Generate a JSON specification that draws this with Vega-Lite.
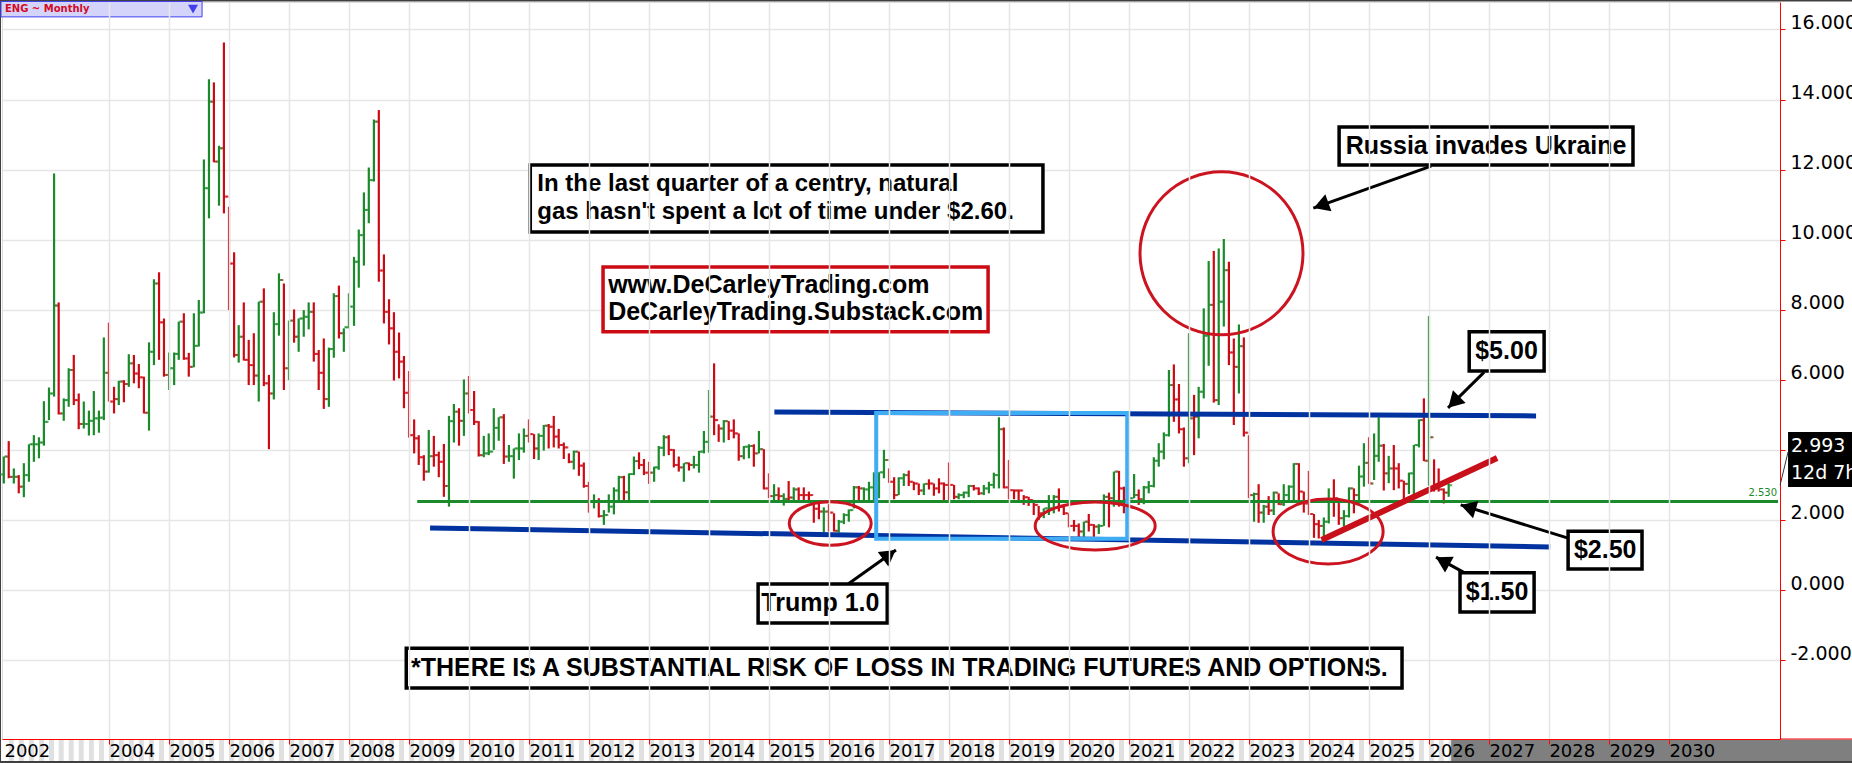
{
  "$schema": "https://vega.github.io/schema/vega-lite/v6.json",
  "width": 1778,
  "height": 737,
  "autosize": "none",
  "padding": {"left": 2, "top": 2, "right": 72, "bottom": 24},
  "background": "white",
  "datasets": {
    "prices": [
      {"d":"2002-04-01","s":"up","o":3.30,"h":3.81,"l":3.04,"c":3.81},
      {"d":"2002-05-01","s":"dn","o":3.81,"h":4.25,"l":3.19,"c":3.23},
      {"d":"2002-06-01","s":"up","o":3.23,"h":3.47,"l":3.04,"c":3.23},
      {"d":"2002-07-01","s":"dn","o":3.23,"h":3.28,"l":2.76,"c":2.95},
      {"d":"2002-08-01","s":"up","o":2.95,"h":3.62,"l":2.65,"c":3.28},
      {"d":"2002-09-01","s":"up","o":3.28,"h":4.16,"l":3.09,"c":4.16},
      {"d":"2002-10-01","s":"up","o":4.16,"h":4.42,"l":3.66,"c":4.16},
      {"d":"2002-11-01","s":"up","o":4.16,"h":4.36,"l":3.76,"c":4.21},
      {"d":"2002-12-01","s":"up","o":4.21,"h":5.39,"l":4.12,"c":4.80},
      {"d":"2003-01-01","s":"up","o":4.80,"h":5.78,"l":4.85,"c":5.61},
      {"d":"2003-02-01","s":"up","o":5.61,"h":11.89,"l":5.52,"c":8.12},
      {"d":"2003-03-01","s":"dn","o":8.12,"h":8.21,"l":5.01,"c":5.04},
      {"d":"2003-04-01","s":"up","o":5.04,"h":5.47,"l":4.83,"c":5.42},
      {"d":"2003-05-01","s":"up","o":5.42,"h":6.33,"l":5.23,"c":6.28},
      {"d":"2003-06-01","s":"dn","o":6.28,"h":6.71,"l":5.28,"c":5.42},
      {"d":"2003-07-01","s":"dn","o":5.42,"h":5.61,"l":4.59,"c":4.74},
      {"d":"2003-08-01","s":"up","o":4.74,"h":5.38,"l":4.61,"c":4.74},
      {"d":"2003-09-01","s":"up","o":4.74,"h":5.12,"l":4.41,"c":4.83},
      {"d":"2003-10-01","s":"up","o":4.83,"h":5.68,"l":4.42,"c":4.90},
      {"d":"2003-11-01","s":"up","o":4.90,"h":5.12,"l":4.49,"c":4.92},
      {"d":"2003-12-01","s":"up","o":4.92,"h":7.21,"l":4.85,"c":6.20},
      {"d":"2004-01-01","s":"dn","o":6.20,"h":7.63,"l":5.38,"c":5.38},
      {"d":"2004-02-01","s":"dn","o":5.38,"h":5.80,"l":5.04,"c":5.45},
      {"d":"2004-03-01","s":"up","o":5.45,"h":5.97,"l":5.28,"c":5.95},
      {"d":"2004-04-01","s":"dn","o":5.95,"h":5.99,"l":5.36,"c":5.88},
      {"d":"2004-05-01","s":"up","o":5.88,"h":6.73,"l":5.80,"c":6.47},
      {"d":"2004-06-01","s":"dn","o":6.47,"h":6.71,"l":5.90,"c":6.18},
      {"d":"2004-07-01","s":"dn","o":6.18,"h":6.45,"l":5.76,"c":6.07},
      {"d":"2004-08-01","s":"dn","o":6.07,"h":6.09,"l":5.04,"c":5.06},
      {"d":"2004-09-01","s":"up","o":5.06,"h":7.07,"l":4.55,"c":6.80},
      {"d":"2004-10-01","s":"up","o":6.80,"h":8.87,"l":6.42,"c":8.75},
      {"d":"2004-11-01","s":"dn","o":8.75,"h":9.07,"l":6.57,"c":7.64},
      {"d":"2004-12-01","s":"dn","o":7.64,"h":7.75,"l":6.09,"c":6.14},
      {"d":"2005-01-01","s":"up","o":6.14,"h":6.78,"l":5.71,"c":6.33},
      {"d":"2005-02-01","s":"up","o":6.33,"h":6.78,"l":5.85,"c":6.74},
      {"d":"2005-03-01","s":"up","o":6.74,"h":7.66,"l":6.57,"c":7.66},
      {"d":"2005-04-01","s":"dn","o":7.66,"h":7.90,"l":6.57,"c":6.61},
      {"d":"2005-05-01","s":"dn","o":6.61,"h":6.77,"l":6.09,"c":6.37},
      {"d":"2005-06-01","s":"up","o":6.37,"h":7.90,"l":6.36,"c":6.97},
      {"d":"2005-07-01","s":"up","o":6.97,"h":8.28,"l":6.95,"c":7.92},
      {"d":"2005-08-01","s":"up","o":7.92,"h":12.29,"l":7.90,"c":11.47},
      {"d":"2005-09-01","s":"up","o":11.47,"h":14.58,"l":10.61,"c":13.94},
      {"d":"2005-10-01","s":"dn","o":13.94,"h":14.49,"l":12.21,"c":12.23},
      {"d":"2005-11-01","s":"up","o":12.23,"h":12.68,"l":10.97,"c":12.61},
      {"d":"2005-12-01","s":"dn","o":12.61,"h":15.63,"l":10.75,"c":11.23},
      {"d":"2006-01-01","s":"dn","o":11.23,"h":10.94,"l":7.99,"c":9.32},
      {"d":"2006-02-01","s":"dn","o":9.32,"h":9.64,"l":6.64,"c":6.71},
      {"d":"2006-03-01","s":"up","o":6.71,"h":7.56,"l":6.49,"c":7.23},
      {"d":"2006-04-01","s":"dn","o":7.23,"h":8.21,"l":6.55,"c":6.57},
      {"d":"2006-05-01","s":"dn","o":6.57,"h":7.14,"l":5.85,"c":6.42},
      {"d":"2006-06-01","s":"dn","o":6.42,"h":7.33,"l":5.85,"c":6.12},
      {"d":"2006-07-01","s":"up","o":6.12,"h":8.23,"l":5.38,"c":8.23},
      {"d":"2006-08-01","s":"dn","o":8.23,"h":8.61,"l":5.82,"c":5.90},
      {"d":"2006-09-01","s":"dn","o":5.90,"h":6.14,"l":4.02,"c":5.61},
      {"d":"2006-10-01","s":"up","o":5.61,"h":7.93,"l":5.44,"c":7.59},
      {"d":"2006-11-01","s":"up","o":7.59,"h":9.04,"l":7.26,"c":8.85},
      {"d":"2006-12-01","s":"dn","o":8.85,"h":8.75,"l":5.71,"c":6.33},
      {"d":"2007-01-01","s":"up","o":6.33,"h":7.69,"l":5.99,"c":7.69},
      {"d":"2007-02-01","s":"dn","o":7.69,"h":8.01,"l":7.06,"c":7.23},
      {"d":"2007-03-01","s":"up","o":7.23,"h":7.75,"l":6.80,"c":7.75},
      {"d":"2007-04-01","s":"up","o":7.75,"h":7.99,"l":7.23,"c":7.80},
      {"d":"2007-05-01","s":"up","o":7.80,"h":8.21,"l":7.44,"c":7.94},
      {"d":"2007-06-01","s":"dn","o":7.94,"h":8.21,"l":6.52,"c":6.74},
      {"d":"2007-07-01","s":"dn","o":6.74,"h":6.85,"l":5.71,"c":6.20},
      {"d":"2007-08-01","s":"dn","o":6.20,"h":7.18,"l":5.17,"c":5.45},
      {"d":"2007-09-01","s":"up","o":5.45,"h":6.92,"l":5.23,"c":6.88},
      {"d":"2007-10-01","s":"up","o":6.88,"h":8.47,"l":6.63,"c":8.39},
      {"d":"2007-11-01","s":"dn","o":8.39,"h":8.69,"l":7.18,"c":7.33},
      {"d":"2007-12-01","s":"up","o":7.33,"h":7.47,"l":6.80,"c":7.50},
      {"d":"2008-01-01","s":"up","o":7.50,"h":8.47,"l":7.47,"c":8.09},
      {"d":"2008-02-01","s":"up","o":8.09,"h":9.51,"l":7.54,"c":9.37},
      {"d":"2008-03-01","s":"up","o":9.37,"h":10.29,"l":8.63,"c":10.13},
      {"d":"2008-04-01","s":"up","o":10.13,"h":11.35,"l":9.26,"c":10.85},
      {"d":"2008-05-01","s":"up","o":10.85,"h":12.06,"l":10.47,"c":11.70},
      {"d":"2008-06-01","s":"up","o":11.70,"h":13.43,"l":11.66,"c":13.37},
      {"d":"2008-07-01","s":"dn","o":13.37,"h":13.70,"l":8.80,"c":9.12},
      {"d":"2008-08-01","s":"dn","o":9.12,"h":9.58,"l":7.61,"c":7.94},
      {"d":"2008-09-01","s":"dn","o":7.94,"h":8.30,"l":7.01,"c":7.47},
      {"d":"2008-10-01","s":"dn","o":7.47,"h":7.93,"l":5.98,"c":6.80},
      {"d":"2008-11-01","s":"dn","o":6.80,"h":7.35,"l":6.04,"c":6.52},
      {"d":"2008-12-01","s":"dn","o":6.52,"h":6.68,"l":5.19,"c":5.63},
      {"d":"2009-01-01","s":"dn","o":5.63,"h":6.25,"l":4.35,"c":4.42},
      {"d":"2009-02-01","s":"dn","o":4.42,"h":4.87,"l":3.90,"c":4.33},
      {"d":"2009-03-01","s":"dn","o":4.33,"h":4.42,"l":3.57,"c":3.79},
      {"d":"2009-04-01","s":"dn","o":3.79,"h":3.85,"l":3.12,"c":3.38},
      {"d":"2009-05-01","s":"up","o":3.38,"h":4.57,"l":3.35,"c":3.82},
      {"d":"2009-06-01","s":"dn","o":3.82,"h":4.40,"l":3.52,"c":3.85},
      {"d":"2009-07-01","s":"dn","o":3.85,"h":3.95,"l":3.22,"c":3.66},
      {"d":"2009-08-01","s":"dn","o":3.66,"h":4.17,"l":2.66,"c":2.97},
      {"d":"2009-09-01","s":"up","o":2.97,"h":4.97,"l":2.38,"c":4.82},
      {"d":"2009-10-01","s":"up","o":4.82,"h":5.31,"l":4.21,"c":5.09},
      {"d":"2009-11-01","s":"dn","o":5.09,"h":5.19,"l":4.12,"c":4.83},
      {"d":"2009-12-01","s":"up","o":4.83,"h":6.01,"l":4.40,"c":5.61},
      {"d":"2010-01-01","s":"dn","o":5.61,"h":6.11,"l":5.04,"c":5.14},
      {"d":"2010-02-01","s":"dn","o":5.14,"h":5.68,"l":4.71,"c":4.80},
      {"d":"2010-03-01","s":"dn","o":4.80,"h":4.82,"l":3.81,"c":3.85},
      {"d":"2010-04-01","s":"up","o":3.85,"h":4.40,"l":3.79,"c":3.90},
      {"d":"2010-05-01","s":"up","o":3.90,"h":4.47,"l":3.85,"c":3.95},
      {"d":"2010-06-01","s":"up","o":3.95,"h":5.19,"l":4.00,"c":4.63},
      {"d":"2010-07-01","s":"up","o":4.63,"h":4.93,"l":4.26,"c":4.93},
      {"d":"2010-08-01","s":"dn","o":4.93,"h":5.02,"l":3.60,"c":3.81},
      {"d":"2010-09-01","s":"up","o":3.81,"h":4.14,"l":3.66,"c":3.82},
      {"d":"2010-10-01","s":"up","o":3.82,"h":4.04,"l":3.18,"c":4.04},
      {"d":"2010-11-01","s":"up","o":4.04,"h":4.47,"l":3.71,"c":4.04},
      {"d":"2010-12-01","s":"up","o":4.04,"h":4.61,"l":3.92,"c":4.40},
      {"d":"2011-01-01","s":"dn","o":4.40,"h":4.87,"l":4.21,"c":4.45},
      {"d":"2011-02-01","s":"dn","o":4.45,"h":4.45,"l":3.74,"c":4.04},
      {"d":"2011-03-01","s":"up","o":4.04,"h":4.47,"l":3.71,"c":4.40},
      {"d":"2011-04-01","s":"up","o":4.40,"h":4.71,"l":3.98,"c":4.69},
      {"d":"2011-05-01","s":"dn","o":4.69,"h":4.74,"l":4.04,"c":4.66},
      {"d":"2011-06-01","s":"dn","o":4.66,"h":4.97,"l":4.07,"c":4.38},
      {"d":"2011-07-01","s":"dn","o":4.38,"h":4.60,"l":4.04,"c":4.14},
      {"d":"2011-08-01","s":"dn","o":4.14,"h":4.21,"l":3.74,"c":4.07},
      {"d":"2011-09-01","s":"dn","o":4.07,"h":3.90,"l":3.62,"c":3.66},
      {"d":"2011-10-01","s":"up","o":3.66,"h":3.98,"l":3.44,"c":3.95},
      {"d":"2011-11-01","s":"dn","o":3.95,"h":3.95,"l":3.26,"c":3.55},
      {"d":"2011-12-01","s":"dn","o":3.55,"h":3.64,"l":2.92,"c":2.97},
      {"d":"2012-01-01","s":"dn","o":2.97,"h":3.09,"l":2.21,"c":2.52},
      {"d":"2012-02-01","s":"up","o":2.52,"h":2.73,"l":2.33,"c":2.52},
      {"d":"2012-03-01","s":"dn","o":2.52,"h":2.62,"l":2.07,"c":2.11},
      {"d":"2012-04-01","s":"up","o":2.11,"h":2.28,"l":1.86,"c":2.14},
      {"d":"2012-05-01","s":"up","o":2.14,"h":2.73,"l":2.21,"c":2.38},
      {"d":"2012-06-01","s":"up","o":2.38,"h":2.93,"l":2.16,"c":2.84},
      {"d":"2012-07-01","s":"up","o":2.84,"h":3.26,"l":2.57,"c":3.22},
      {"d":"2012-08-01","s":"dn","o":3.22,"h":3.26,"l":2.57,"c":2.79},
      {"d":"2012-09-01","s":"up","o":2.79,"h":3.33,"l":2.57,"c":3.31},
      {"d":"2012-10-01","s":"up","o":3.31,"h":3.81,"l":3.28,"c":3.68},
      {"d":"2012-11-01","s":"dn","o":3.68,"h":3.93,"l":3.45,"c":3.57},
      {"d":"2012-12-01","s":"dn","o":3.57,"h":3.74,"l":3.28,"c":3.35},
      {"d":"2013-01-01","s":"dn","o":3.35,"h":3.66,"l":3.03,"c":3.35},
      {"d":"2013-02-01","s":"up","o":3.35,"h":3.52,"l":3.09,"c":3.50},
      {"d":"2013-03-01","s":"up","o":3.50,"h":4.11,"l":3.43,"c":4.06},
      {"d":"2013-04-01","s":"up","o":4.06,"h":4.42,"l":3.82,"c":4.36},
      {"d":"2013-05-01","s":"dn","o":4.36,"h":4.42,"l":3.85,"c":4.00},
      {"d":"2013-06-01","s":"dn","o":4.00,"h":4.02,"l":3.50,"c":3.57},
      {"d":"2013-07-01","s":"dn","o":3.57,"h":3.81,"l":3.38,"c":3.50},
      {"d":"2013-08-01","s":"up","o":3.50,"h":3.62,"l":3.09,"c":3.62},
      {"d":"2013-09-01","s":"dn","o":3.62,"h":3.64,"l":3.41,"c":3.57},
      {"d":"2013-10-01","s":"up","o":3.57,"h":3.83,"l":3.47,"c":3.57},
      {"d":"2013-11-01","s":"up","o":3.57,"h":3.97,"l":3.35,"c":3.95},
      {"d":"2013-12-01","s":"up","o":3.95,"h":4.54,"l":3.90,"c":4.23},
      {"d":"2014-01-01","s":"up","o":4.23,"h":5.71,"l":3.92,"c":4.95},
      {"d":"2014-02-01","s":"dn","o":4.95,"h":6.47,"l":4.42,"c":4.85},
      {"d":"2014-03-01","s":"dn","o":4.85,"h":4.73,"l":4.23,"c":4.61},
      {"d":"2014-04-01","s":"up","o":4.61,"h":4.85,"l":4.21,"c":4.82},
      {"d":"2014-05-01","s":"dn","o":4.82,"h":4.82,"l":4.28,"c":4.55},
      {"d":"2014-06-01","s":"dn","o":4.55,"h":4.87,"l":4.33,"c":4.47},
      {"d":"2014-07-01","s":"dn","o":4.47,"h":4.47,"l":3.69,"c":3.82},
      {"d":"2014-08-01","s":"up","o":3.82,"h":4.11,"l":3.73,"c":4.09},
      {"d":"2014-09-01","s":"up","o":4.09,"h":4.16,"l":3.76,"c":4.11},
      {"d":"2014-10-01","s":"dn","o":4.11,"h":4.16,"l":3.52,"c":3.90},
      {"d":"2014-11-01","s":"up","o":3.90,"h":4.54,"l":3.90,"c":4.02},
      {"d":"2014-12-01","s":"dn","o":4.02,"h":4.02,"l":2.87,"c":2.90},
      {"d":"2015-01-01","s":"dn","o":2.90,"h":3.33,"l":2.62,"c":2.68},
      {"d":"2015-02-01","s":"up","o":2.68,"h":3.02,"l":2.57,"c":2.71},
      {"d":"2015-03-01","s":"dn","o":2.71,"h":2.93,"l":2.57,"c":2.68},
      {"d":"2015-04-01","s":"up","o":2.68,"h":2.76,"l":2.41,"c":2.60},
      {"d":"2015-05-01","s":"dn","o":2.60,"h":3.11,"l":2.55,"c":2.64},
      {"d":"2015-06-01","s":"up","o":2.64,"h":2.93,"l":2.57,"c":2.87},
      {"d":"2015-07-01","s":"dn","o":2.87,"h":2.93,"l":2.57,"c":2.71},
      {"d":"2015-08-01","s":"dn","o":2.71,"h":2.93,"l":2.57,"c":2.71},
      {"d":"2015-09-01","s":"dn","o":2.71,"h":2.81,"l":2.57,"c":2.71},
      {"d":"2015-10-01","s":"dn","o":2.71,"h":2.52,"l":1.92,"c":2.32},
      {"d":"2015-11-01","s":"dn","o":2.32,"h":2.47,"l":2.02,"c":2.24},
      {"d":"2015-12-01","s":"up","o":2.24,"h":2.36,"l":1.65,"c":2.24},
      {"d":"2016-01-01","s":"dn","o":2.24,"h":2.45,"l":1.67,"c":2.21},
      {"d":"2016-02-01","s":"dn","o":2.21,"h":2.19,"l":1.67,"c":1.69},
      {"d":"2016-03-01","s":"up","o":1.69,"h":2.00,"l":1.64,"c":1.95},
      {"d":"2016-04-01","s":"up","o":1.95,"h":2.19,"l":1.88,"c":2.14},
      {"d":"2016-05-01","s":"up","o":2.14,"h":2.30,"l":1.95,"c":2.28},
      {"d":"2016-06-01","s":"up","o":2.28,"h":2.97,"l":2.33,"c":2.93},
      {"d":"2016-07-01","s":"dn","o":2.93,"h":2.97,"l":2.57,"c":2.90},
      {"d":"2016-08-01","s":"up","o":2.90,"h":2.93,"l":2.57,"c":2.87},
      {"d":"2016-09-01","s":"up","o":2.87,"h":3.09,"l":2.57,"c":2.93},
      {"d":"2016-10-01","s":"up","o":2.93,"h":3.36,"l":2.57,"c":3.04},
      {"d":"2016-11-01","s":"up","o":3.04,"h":3.36,"l":2.62,"c":3.36},
      {"d":"2016-12-01","s":"up","o":3.36,"h":4.00,"l":3.19,"c":3.71},
      {"d":"2017-01-01","s":"dn","o":3.71,"h":3.47,"l":3.06,"c":3.09},
      {"d":"2017-02-01","s":"dn","o":3.09,"h":3.22,"l":2.59,"c":2.71},
      {"d":"2017-03-01","s":"up","o":2.71,"h":3.22,"l":2.71,"c":3.19},
      {"d":"2017-04-01","s":"up","o":3.19,"h":3.33,"l":2.97,"c":3.28},
      {"d":"2017-05-01","s":"dn","o":3.28,"h":3.41,"l":2.97,"c":3.09},
      {"d":"2017-06-01","s":"dn","o":3.09,"h":3.09,"l":2.85,"c":3.04},
      {"d":"2017-07-01","s":"dn","o":3.04,"h":3.04,"l":2.71,"c":2.84},
      {"d":"2017-08-01","s":"up","o":2.84,"h":3.04,"l":2.71,"c":3.03},
      {"d":"2017-09-01","s":"dn","o":3.03,"h":3.16,"l":2.87,"c":3.04},
      {"d":"2017-10-01","s":"dn","o":3.04,"h":3.04,"l":2.69,"c":2.90},
      {"d":"2017-11-01","s":"dn","o":2.90,"h":3.19,"l":2.76,"c":3.04},
      {"d":"2017-12-01","s":"dn","o":3.04,"h":3.07,"l":2.57,"c":3.00},
      {"d":"2018-01-01","s":"dn","o":3.00,"h":3.64,"l":2.57,"c":3.00},
      {"d":"2018-02-01","s":"dn","o":3.00,"h":3.00,"l":2.59,"c":2.66},
      {"d":"2018-03-01","s":"up","o":2.66,"h":2.76,"l":2.59,"c":2.71},
      {"d":"2018-04-01","s":"up","o":2.71,"h":2.81,"l":2.62,"c":2.78},
      {"d":"2018-05-01","s":"up","o":2.78,"h":3.00,"l":2.65,"c":2.97},
      {"d":"2018-06-01","s":"dn","o":2.97,"h":3.00,"l":2.84,"c":2.90},
      {"d":"2018-07-01","s":"dn","o":2.90,"h":2.93,"l":2.71,"c":2.76},
      {"d":"2018-08-01","s":"up","o":2.76,"h":3.00,"l":2.71,"c":2.90},
      {"d":"2018-09-01","s":"up","o":2.90,"h":3.09,"l":2.76,"c":3.00},
      {"d":"2018-10-01","s":"up","o":3.00,"h":3.35,"l":2.90,"c":3.28},
      {"d":"2018-11-01","s":"up","o":3.28,"h":4.93,"l":2.90,"c":4.59},
      {"d":"2018-12-01","s":"dn","o":4.59,"h":4.64,"l":2.90,"c":2.93},
      {"d":"2019-01-01","s":"dn","o":2.93,"h":3.71,"l":2.59,"c":2.85},
      {"d":"2019-02-01","s":"dn","o":2.85,"h":2.87,"l":2.59,"c":2.84},
      {"d":"2019-03-01","s":"dn","o":2.84,"h":2.87,"l":2.57,"c":2.84},
      {"d":"2019-04-01","s":"dn","o":2.84,"h":2.71,"l":2.43,"c":2.65},
      {"d":"2019-05-01","s":"dn","o":2.65,"h":2.66,"l":2.40,"c":2.57},
      {"d":"2019-06-01","s":"dn","o":2.57,"h":2.52,"l":2.14,"c":2.43},
      {"d":"2019-07-01","s":"dn","o":2.43,"h":2.40,"l":2.00,"c":2.19},
      {"d":"2019-08-01","s":"up","o":2.19,"h":2.33,"l":2.05,"c":2.33},
      {"d":"2019-09-01","s":"up","o":2.33,"h":2.71,"l":2.14,"c":2.33},
      {"d":"2019-10-01","s":"up","o":2.33,"h":2.71,"l":2.19,"c":2.66},
      {"d":"2019-11-01","s":"dn","o":2.66,"h":2.90,"l":2.24,"c":2.38},
      {"d":"2019-12-01","s":"dn","o":2.38,"h":2.45,"l":2.14,"c":2.19},
      {"d":"2020-01-01","s":"dn","o":2.19,"h":2.19,"l":1.79,"c":1.83},
      {"d":"2020-02-01","s":"dn","o":1.83,"h":2.00,"l":1.67,"c":1.83},
      {"d":"2020-03-01","s":"dn","o":1.83,"h":1.90,"l":1.52,"c":1.67},
      {"d":"2020-04-01","s":"up","o":1.67,"h":1.95,"l":1.52,"c":1.95},
      {"d":"2020-05-01","s":"dn","o":1.95,"h":2.17,"l":1.67,"c":1.86},
      {"d":"2020-06-01","s":"dn","o":1.86,"h":1.88,"l":1.52,"c":1.81},
      {"d":"2020-07-01","s":"up","o":1.81,"h":1.88,"l":1.60,"c":1.83},
      {"d":"2020-08-01","s":"up","o":1.83,"h":2.73,"l":1.83,"c":2.66},
      {"d":"2020-09-01","s":"dn","o":2.66,"h":2.78,"l":1.79,"c":2.62},
      {"d":"2020-10-01","s":"up","o":2.62,"h":3.38,"l":2.38,"c":3.38},
      {"d":"2020-11-01","s":"dn","o":3.38,"h":3.40,"l":2.38,"c":2.90},
      {"d":"2020-12-01","s":"dn","o":2.90,"h":2.95,"l":2.19,"c":2.57},
      {"d":"2021-01-01","s":"up","o":2.57,"h":2.76,"l":2.38,"c":2.62},
      {"d":"2021-02-01","s":"up","o":2.62,"h":3.31,"l":2.62,"c":2.71},
      {"d":"2021-03-01","s":"dn","o":2.71,"h":2.87,"l":2.43,"c":2.59},
      {"d":"2021-04-01","s":"up","o":2.59,"h":2.97,"l":2.45,"c":2.93},
      {"d":"2021-05-01","s":"up","o":2.93,"h":3.11,"l":2.76,"c":2.97},
      {"d":"2021-06-01","s":"up","o":2.97,"h":3.79,"l":2.93,"c":3.69},
      {"d":"2021-07-01","s":"up","o":3.69,"h":4.19,"l":3.52,"c":3.95},
      {"d":"2021-08-01","s":"up","o":3.95,"h":4.50,"l":3.73,"c":4.42},
      {"d":"2021-09-01","s":"up","o":4.42,"h":6.28,"l":4.38,"c":5.85},
      {"d":"2021-10-01","s":"dn","o":5.85,"h":6.44,"l":4.80,"c":5.44},
      {"d":"2021-11-01","s":"dn","o":5.44,"h":5.88,"l":4.47,"c":4.59},
      {"d":"2021-12-01","s":"dn","o":4.59,"h":4.64,"l":3.52,"c":3.76},
      {"d":"2022-01-01","s":"up","o":3.76,"h":7.33,"l":3.62,"c":4.90},
      {"d":"2022-02-01","s":"dn","o":4.90,"h":5.57,"l":3.85,"c":4.95},
      {"d":"2022-03-01","s":"up","o":4.95,"h":5.80,"l":4.33,"c":5.66},
      {"d":"2022-04-01","s":"up","o":5.66,"h":8.04,"l":5.47,"c":7.26},
      {"d":"2022-05-01","s":"up","o":7.26,"h":9.39,"l":6.40,"c":8.14},
      {"d":"2022-06-01","s":"dn","o":8.14,"h":9.68,"l":5.35,"c":5.42},
      {"d":"2022-07-01","s":"up","o":5.42,"h":9.75,"l":5.28,"c":8.23},
      {"d":"2022-08-01","s":"up","o":8.23,"h":10.02,"l":7.52,"c":9.13},
      {"d":"2022-09-01","s":"dn","o":9.13,"h":9.37,"l":6.42,"c":6.78},
      {"d":"2022-10-01","s":"dn","o":6.78,"h":7.18,"l":4.71,"c":6.37},
      {"d":"2022-11-01","s":"up","o":6.37,"h":7.58,"l":5.61,"c":6.96},
      {"d":"2022-12-01","s":"dn","o":6.96,"h":7.21,"l":4.38,"c":4.49},
      {"d":"2023-01-01","s":"dn","o":4.49,"h":4.42,"l":2.62,"c":2.71},
      {"d":"2023-02-01","s":"up","o":2.71,"h":2.78,"l":1.95,"c":2.74},
      {"d":"2023-03-01","s":"dn","o":2.74,"h":3.02,"l":1.92,"c":2.21},
      {"d":"2023-04-01","s":"up","o":2.21,"h":2.43,"l":1.92,"c":2.38},
      {"d":"2023-05-01","s":"dn","o":2.38,"h":2.68,"l":2.14,"c":2.27},
      {"d":"2023-06-01","s":"up","o":2.27,"h":2.81,"l":2.14,"c":2.78},
      {"d":"2023-07-01","s":"dn","o":2.78,"h":2.76,"l":2.43,"c":2.45},
      {"d":"2023-08-01","s":"up","o":2.45,"h":3.02,"l":2.40,"c":2.71},
      {"d":"2023-09-01","s":"up","o":2.71,"h":2.99,"l":2.57,"c":2.95},
      {"d":"2023-10-01","s":"up","o":2.95,"h":3.62,"l":2.52,"c":3.60},
      {"d":"2023-11-01","s":"dn","o":3.60,"h":3.62,"l":2.57,"c":2.81},
      {"d":"2023-12-01","s":"dn","o":2.81,"h":2.81,"l":2.21,"c":2.47},
      {"d":"2024-01-01","s":"dn","o":2.47,"h":3.40,"l":2.14,"c":2.17},
      {"d":"2024-02-01","s":"dn","o":2.17,"h":2.17,"l":1.49,"c":1.88},
      {"d":"2024-03-01","s":"dn","o":1.88,"h":2.00,"l":1.47,"c":1.83},
      {"d":"2024-04-01","s":"up","o":1.83,"h":2.07,"l":1.50,"c":1.95},
      {"d":"2024-05-01","s":"up","o":1.95,"h":2.90,"l":1.90,"c":2.58},
      {"d":"2024-06-01","s":"dn","o":2.58,"h":3.16,"l":2.09,"c":2.62},
      {"d":"2024-07-01","s":"dn","o":2.62,"h":2.57,"l":1.86,"c":2.05},
      {"d":"2024-08-01","s":"up","o":2.05,"h":2.28,"l":1.81,"c":2.11},
      {"d":"2024-09-01","s":"up","o":2.11,"h":2.93,"l":2.07,"c":2.90},
      {"d":"2024-10-01","s":"dn","o":2.90,"h":2.90,"l":2.19,"c":2.71},
      {"d":"2024-11-01","s":"up","o":2.71,"h":3.55,"l":2.57,"c":3.24},
      {"d":"2024-12-01","s":"up","o":3.24,"h":4.19,"l":2.95,"c":3.63},
      {"d":"2025-01-01","s":"dn","o":3.63,"h":4.36,"l":3.03,"c":3.04},
      {"d":"2025-02-01","s":"up","o":3.04,"h":4.47,"l":3.14,"c":3.83},
      {"d":"2025-03-01","s":"up","o":3.83,"h":4.93,"l":3.66,"c":4.12},
      {"d":"2025-04-01","s":"dn","o":4.12,"h":4.17,"l":2.84,"c":3.33},
      {"d":"2025-05-01","s":"up","o":3.33,"h":3.83,"l":3.05,"c":3.47},
      {"d":"2025-06-01","s":"dn","o":3.47,"h":4.14,"l":2.85,"c":3.47},
      {"d":"2025-07-01","s":"dn","o":3.47,"h":3.62,"l":2.90,"c":3.12},
      {"d":"2025-08-01","s":"dn","o":3.12,"h":3.12,"l":2.57,"c":3.03},
      {"d":"2025-09-01","s":"up","o":3.03,"h":3.35,"l":2.74,"c":3.33},
      {"d":"2025-10-01","s":"up","o":3.33,"h":4.14,"l":2.66,"c":4.14},
      {"d":"2025-11-01","s":"up","o":4.14,"h":4.87,"l":4.07,"c":4.85},
      {"d":"2025-12-01","s":"dn","o":4.85,"h":5.47,"l":3.68,"c":3.69},
      {"d":"2026-01-01","s":"up","o":3.69,"h":7.82,"l":2.98,"c":4.36},
      {"d":"2026-02-01","s":"dn","o":4.36,"h":3.73,"l":2.81,"c":2.90},
      {"d":"2026-03-01","s":"dn","o":2.90,"h":3.47,"l":2.81,"c":2.87},
      {"d":"2026-04-01","s":"dn","o":2.87,"h":2.90,"l":2.47,"c":2.78},
      {"d":"2026-05-01","s":"up","o":2.78,"h":3.03,"l":2.66,"c":2.99}
    ],
    "boxes": [
      {"k":"note","d":"2011-01-09","d2":"2019-07-27","p":12.13,"p2":10.22},
      {"k":"web","d":"2012-03-27","d2":"2018-08-27","p":9.22,"p2":7.37},
      {"k":"note","d":"2024-07-03","d2":"2029-05-27","p":13.22,"p2":12.13},
      {"k":"note","d":"2026-09-03","d2":"2027-12-03","p":7.37,"p2":6.25},
      {"k":"note","d":"2028-04-27","d2":"2029-07-21","p":1.68,"p2":0.60},
      {"k":"note","d":"2026-07-09","d2":"2027-10-03","p":0.49,"p2":-0.63},
      {"k":"note","d":"2014-10-27","d2":"2016-12-21","p":0.17,"p2":-0.94},
      {"k":"note","d":"2008-12-15","d2":"2025-07-21","p":-1.66,"p2":-2.80}
    ],
    "arrows": [
      {"d":"2026-01-14","d2":"2024-01-28","p":12.10,"p2":10.90},
      {"d":"2016-04-27","d2":"2017-02-12","p":0.17,"p2":1.14},
      {"d":"2026-12-03","d2":"2026-04-27","p":6.22,"p2":5.20},
      {"d":"2028-04-27","d2":"2026-07-13","p":1.48,"p2":2.43},
      {"d":"2026-08-06","d2":"2026-02-13","p":0.49,"p2":0.94}
    ],
    "heads": [
      {"a":"russia","d":"2024-03-15","p":10.98},
      {"a":"trump","d":"2017-01-03","p":1.01},
      {"a":"five","d":"2026-06-01","p":5.36},
      {"a":"twofifty","d":"2026-08-28","p":2.36},
      {"a":"onefifty","d":"2026-03-25","p":0.83}
    ],
    "labels": [
      {"k":"note","t":"In the last quarter of a centry, natural","d":"2011-02-21","p":11.59},
      {"k":"note","t":"gas hasn't spent a lot of time under $2.60.","d":"2011-02-21","p":10.79},
      {"k":"web","t":"www.DeCarleyTrading.com","d":"2012-04-27","p":8.71},
      {"k":"web","t":"DeCarleyTrading.Substack.com","d":"2012-04-27","p":7.94},
      {"k":"mid","t":"Russia invades Ukraine","d":"2026-12-15","p":12.67},
      {"k":"mid","t":"$5.00","d":"2027-04-18","p":6.81},
      {"k":"mid","t":"$2.50","d":"2028-12-09","p":1.14},
      {"k":"mid","t":"$1.50","d":"2027-02-20","p":-0.07},
      {"k":"mid","t":"Trump 1.0","d":"2015-11-10","p":-0.385},
      {"k":"mid","t":"*THERE IS A SUBSTANTIAL RISK OF LOSS IN TRADING FUTURES AND OPTIONS.","d":"2017-03-05","p":-2.23}
    ]
  },
  "data": {"name": "prices"},
  "encoding": {
    "x": {
      "field": "d",
      "type": "temporal",
      "title": null,
      "scale": {"type": "utc", "domain": ["2002-03-21", "2031-11-08"], "nice": false},
      "axis": {
        "orient": "bottom",
        "values": ["2004-01-01","2005-01-01","2006-01-01","2007-01-01","2008-01-01","2009-01-01","2010-01-01","2011-01-01","2012-01-01","2013-01-01","2014-01-01","2015-01-01","2016-01-01","2017-01-01","2018-01-01","2019-01-01","2020-01-01","2021-01-01","2022-01-01","2023-01-01","2024-01-01","2025-01-01","2026-01-01","2027-01-01","2028-01-01","2029-01-01","2030-01-01"],
        "format": "%Y",
        "formatType": "utc",
        "grid": true,
        "gridColor": "#e6e6e6",
        "gridWidth": 1.5,
        "domainColor": "#ff0000",
        "tickColor": "#ff0000",
        "tickSize": 5,
        "labelAlign": "left",
        "labelBaseline": "top",
        "labelFont": "DejaVu Sans",
        "labelFontSize": 18,
        "labelColor": "#000000",
        "labelPadding": -2,
        "labelBound": false,
        "labelFlush": false,
        "labelOverlap": false,
        "zindex": 1
      }
    },
    "y": {
      "field": "p",
      "type": "quantitative",
      "title": null,
      "scale": {"domain": [-4.253, 16.785], "nice": false, "zero": false},
      "axis": {
        "orient": "right",
        "values": [-2, 0, 2, 4, 6, 8, 10, 12, 14, 16],
        "format": ".3f",
        "labelExpr": "replace(datum.label, '\u2212', '-')",
        "grid": true,
        "gridColor": "#e6e6e6",
        "gridWidth": 1.5,
        "domainColor": "#ff0000",
        "tickColor": "#ff0000",
        "tickSize": 5,
        "labelAlign": "left",
        "labelFont": "DejaVu Sans",
        "labelFontSize": 19,
        "labelColor": "#000000",
        "labelPadding": 5,
        "labelOffset": -7,
        "labelBound": false,
        "labelFlush": false,
        "labelOverlap": false
      }
    }
  },
  "layer": [
    {
      "transform": [
        {"filter": "month(datum.d) % 2 == 0"},
        {"calculate": "-4.27", "as": "p"},
        {"calculate": "-4.88", "as": "p2"}
      ],
      "mark": {"type": "rule", "strokeWidth": 5, "xOffset": 2.5, "color": "#e0e0e0"},
      "encoding": {"y2": {"field": "p2"}}
    },
    {
      "data": {"values": [{"d": "2026-05-16", "d2": "2033-01-21", "p": -4.27, "p2": -4.88}]},
      "mark": {"type": "rect", "fill": "#7f7f7f"},
      "encoding": {"x2": {"field": "d2"}, "y2": {"field": "p2"}}
    },
    {
      "data": {"values": [
        {"d": "2031-11-08", "d2": "2033-01-21", "p": -4.253, "p2": -4.253}
      ]},
      "mark": {"type": "rule", "strokeWidth": 1, "color": "#ff0000"},
      "encoding": {"x2": {"field": "d2"}, "y2": {"field": "p2"}}
    },
    {
      "data": {"values": [
        {"d": "2002-03-09", "d2": "2033-01-21", "p": 16.83, "p2": 16.83},
        {"d": "2002-03-09", "d2": "2033-01-21", "p": -4.91, "p2": -4.91},
        {"d": "2002-03-09", "d2": "2002-03-09", "p": 16.84, "p2": -4.91}
      ]},
      "mark": {"type": "rule", "strokeWidth": 2, "color": "#404040"},
      "encoding": {"x2": {"field": "d2"}, "y2": {"field": "p2"}}
    },
    {
      "mark": {"type": "rule", "strokeWidth": 2.2},
      "encoding": {
        "y": {"field": "l", "type": "quantitative", "title": null},
        "y2": {"field": "h"},
        "color": {"field": "s", "type": "nominal", "legend": null, "scale": {"domain": ["up", "dn"], "range": ["#1a8a2a", "#cc0a14"]}}
      }
    },
    {
      "mark": {"type": "tick", "orient": "horizontal", "size": 3, "thickness": 2, "xOffset": -2},
      "encoding": {
        "y": {"field": "o", "type": "quantitative", "title": null},
        "color": {"field": "s", "type": "nominal", "legend": null}
      }
    },
    {
      "mark": {"type": "tick", "orient": "horizontal", "size": 3, "thickness": 2, "xOffset": 2},
      "encoding": {
        "y": {"field": "c", "type": "quantitative", "title": null},
        "color": {"field": "s", "type": "nominal", "legend": null}
      }
    },
    {
      "data": {"values": [{"d": "2009-02-20", "d2": "2031-10-27", "p": 2.53, "p2": 2.53}]},
      "mark": {"type": "rule", "strokeWidth": 3, "color": "#1a8a2a"},
      "encoding": {"x2": {"field": "d2"}, "y2": {"field": "p2"}}
    },
    {
      "data": {"values": [
        {"d": "2015-02-03", "d2": "2027-10-15", "p": 5.08, "p2": 4.97},
        {"d": "2009-05-09", "d2": "2028-01-09", "p": 1.77, "p2": 1.23}
      ]},
      "mark": {"type": "rule", "strokeWidth": 5, "color": "#0033a0"},
      "encoding": {"x2": {"field": "d2"}, "y2": {"field": "p2"}}
    },
    {
      "data": {"values": [{"d": "2016-10-15", "d2": "2020-12-21", "p": 5.05, "p2": 1.46}]},
      "mark": {"type": "rect", "filled": false, "stroke": "#3fadf4", "strokeWidth": 4},
      "encoding": {"x2": {"field": "d2"}, "y2": {"field": "p2"}}
    },
    {
      "data": {"values": [{"d": "2024-03-18", "d2": "2027-02-20", "p": 1.43, "p2": 3.77}]},
      "mark": {"type": "rule", "strokeWidth": 6, "color": "#c8101a"},
      "encoding": {"x2": {"field": "d2"}, "y2": {"field": "p2"}}
    },
    {
      "data": {"values": [{"d": "2022-07-18", "p": 9.61}]},
      "mark": {"type": "point", "shape": "circle", "size": 26569, "filled": false, "stroke": "#cc1420", "strokeWidth": 3, "opacity": 1}
    },
    {
      "data": {"values": [{"d": "2016-01-09", "p": 1.90}]},
      "mark": {"type": "point", "shape": "M -1 0 A 1 0.53 0 1 0 1 0 A 1 0.53 0 1 0 -1 0 Z", "size": 6724, "filled": false, "stroke": "#cc1420", "strokeWidth": 3, "opacity": 1}
    },
    {
      "data": {"values": [{"d": "2020-06-09", "p": 1.83}]},
      "mark": {"type": "point", "shape": "M -1 0 A 1 0.4 0 1 0 1 0 A 1 0.4 0 1 0 -1 0 Z", "size": 14400, "filled": false, "stroke": "#cc1420", "strokeWidth": 3, "opacity": 1}
    },
    {
      "data": {"values": [{"d": "2024-04-27", "p": 1.67}]},
      "mark": {"type": "point", "shape": "M -1 0 A 1 0.59 0 1 0 1 0 A 1 0.59 0 1 0 -1 0 Z", "size": 12100, "filled": false, "stroke": "#cc1420", "strokeWidth": 3, "opacity": 1}
    },
    {
      "data": {"name": "arrows"},
      "mark": {"type": "rule", "strokeWidth": 3, "color": "#000000"},
      "encoding": {"x2": {"field": "d2"}, "y2": {"field": "p2"}}
    },
    {
      "data": {"name": "heads"},
      "transform": [{"filter": "datum.a == 'russia'"}],
      "mark": {"type": "point", "shape": "triangle-up", "angle": 250, "size": 324, "filled": true, "color": "#000000", "opacity": 1}
    },
    {
      "data": {"name": "heads"},
      "transform": [{"filter": "datum.a == 'trump'"}],
      "mark": {"type": "point", "shape": "triangle-up", "angle": 54, "size": 324, "filled": true, "color": "#000000", "opacity": 1}
    },
    {
      "data": {"name": "heads"},
      "transform": [{"filter": "datum.a == 'five'"}],
      "mark": {"type": "point", "shape": "triangle-up", "angle": 225, "size": 324, "filled": true, "color": "#000000", "opacity": 1}
    },
    {
      "data": {"name": "heads"},
      "transform": [{"filter": "datum.a == 'twofifty'"}],
      "mark": {"type": "point", "shape": "triangle-up", "angle": 287, "size": 324, "filled": true, "color": "#000000", "opacity": 1}
    },
    {
      "data": {"name": "heads"},
      "transform": [{"filter": "datum.a == 'onefifty'"}],
      "mark": {"type": "point", "shape": "triangle-up", "angle": 299, "size": 324, "filled": true, "color": "#000000", "opacity": 1}
    },
    {
      "data": {"name": "boxes"},
      "transform": [{"filter": "datum.k == 'note'"}],
      "mark": {"type": "rect", "fill": "#ffffff", "stroke": "#000000", "strokeWidth": 3.5},
      "encoding": {"x2": {"field": "d2"}, "y2": {"field": "p2"}}
    },
    {
      "data": {"name": "boxes"},
      "transform": [{"filter": "datum.k == 'web'"}],
      "mark": {"type": "rect", "fill": "#ffffff", "stroke": "#cc0a14", "strokeWidth": 3.5},
      "encoding": {"x2": {"field": "d2"}, "y2": {"field": "p2"}}
    },
    {
      "data": {"name": "labels"},
      "transform": [{"filter": "datum.k == 'note'"}],
      "mark": {"type": "text", "align": "left", "baseline": "middle", "font": "Liberation Sans", "fontWeight": "bold", "fontSize": 24, "color": "#000000"},
      "encoding": {"text": {"field": "t"}}
    },
    {
      "data": {"name": "labels"},
      "transform": [{"filter": "datum.k == 'web'"}],
      "mark": {"type": "text", "align": "left", "baseline": "middle", "font": "Liberation Sans", "fontWeight": "bold", "fontSize": 25, "color": "#000000"},
      "encoding": {"text": {"field": "t"}}
    },
    {
      "data": {"name": "labels"},
      "transform": [{"filter": "datum.k == 'mid'"}],
      "mark": {"type": "text", "align": "center", "baseline": "middle", "font": "Liberation Sans", "fontWeight": "bold", "fontSize": 25, "color": "#000000"},
      "encoding": {"text": {"field": "t"}}
    },
    {
      "data": {"values": [{"d": "2002-04-05", "p": -4.62, "t": "2002"}]},
      "mark": {"type": "text", "align": "left", "baseline": "middle", "font": "DejaVu Sans", "fontSize": 18, "color": "#000000"},
      "encoding": {"text": {"field": "t"}}
    },
    {
      "data": {"values": [{"d": "2031-10-21", "p": 2.77, "t": "2.530"}]},
      "mark": {"type": "text", "align": "right", "baseline": "middle", "font": "DejaVu Sans", "fontSize": 10, "color": "#1a8a2a"},
      "encoding": {"text": {"field": "t"}}
    },
    {
      "data": {"values": [{"d": "2031-12-27", "d2": "2033-01-21", "p": 4.51, "p2": 2.94}]},
      "mark": {"type": "rect", "fill": "#000000"},
      "encoding": {"x2": {"field": "d2"}, "y2": {"field": "p2"}}
    },
    {
      "data": {"values": [{"d": "2031-11-09", "d2": "2031-12-27", "p": 3.0, "p2": 3.94}]},
      "mark": {"type": "rule", "strokeWidth": 1, "color": "#333333"},
      "encoding": {"x2": {"field": "d2"}, "y2": {"field": "p2"}}
    },
    {
      "data": {"values": [{"d": "2032-01-14", "p": 4.11, "t": "2.993"}, {"d": "2032-01-14", "p": 3.34, "t": "12d 7h"}]},
      "mark": {"type": "text", "align": "left", "baseline": "middle", "font": "DejaVu Sans", "fontSize": 19, "color": "#ffffff"},
      "encoding": {"text": {"field": "t"}}
    },
    {
      "data": {"values": [{"d": "2002-03-15", "d2": "2005-07-21", "p": 16.8, "p2": 16.36}]},
      "mark": {"type": "rect", "fill": "#d4d4fb", "stroke": "#4040f0", "strokeWidth": 1},
      "encoding": {"x2": {"field": "d2"}, "y2": {"field": "p2"}}
    },
    {
      "data": {"values": [{"d": "2005-05-27", "p": 16.58}]},
      "mark": {"type": "point", "shape": "triangle-down", "size": 100, "filled": true, "color": "#4040f0", "opacity": 1}
    },
    {
      "data": {"values": [{"d": "2002-04-08", "p": 16.59, "t": "ENG ~ Monthly"}]},
      "mark": {"type": "text", "align": "left", "baseline": "middle", "font": "DejaVu Sans", "fontWeight": "bold", "fontSize": 10, "color": "#d40a1e"},
      "encoding": {"text": {"field": "t"}}
    }
  ]
}
